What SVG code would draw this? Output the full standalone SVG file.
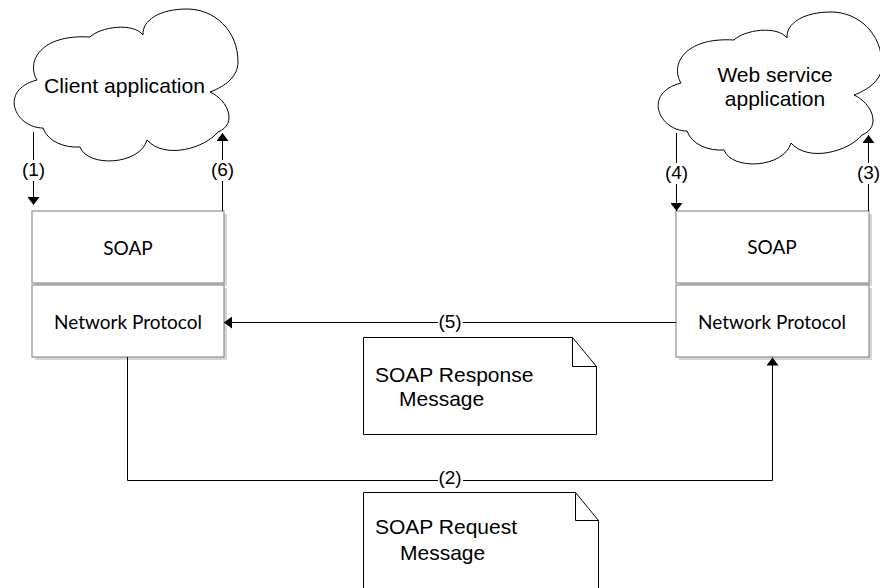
<svg xmlns="http://www.w3.org/2000/svg" width="880" height="588" viewBox="0 0 880 588">
<style>
.cloud{fill:#fff;stroke:#000;stroke-width:1}
.box{fill:#fff;stroke:#7a7a7a;stroke-width:1}
.shadow{fill:#d6d6d6}
.bt{font-family:Lato,"Open Sans",sans-serif;font-size:19px;fill:#000;text-anchor:middle}
.t{font-family:"Liberation Sans",Arial,sans-serif;font-size:21px;fill:#000}
.lbl{font-family:"Liberation Sans",Arial,sans-serif;font-size:19px;fill:#000;text-anchor:middle}
.ln{fill:none;stroke:#000;stroke-width:1}
.note{fill:#fff;stroke:#000;stroke-width:1}
.bg{fill:#fff}
</style>
<defs>
<path id="cloudshape" d="M37,80 C26,62 40,34 90,37 C100,27 133,22 143,35 C142,20 160,9 187,9 C214,9 238,30 238,62 C238,76 226,86 210,92 C228,100 238,124 218,132 C205,148 165,160 147,140 C140,165 88,168 80,147 C65,148 48,142 43,128 C15,128 -2,90 37,80 Z"/>
<marker id="ah" viewBox="0 0 8 12" refX="8" refY="6" markerWidth="8" markerHeight="12" markerUnits="userSpaceOnUse" orient="auto">
<path d="M0,0 L8,6 L0,12 Z" fill="#000"/>
</marker>
</defs>

<g id="client-app">
<use href="#cloudshape" class="cloud"/>
<text class="t" x="124.5" y="92.5" text-anchor="middle" textLength="161" lengthAdjust="spacingAndGlyphs">Client application</text>
</g>

<g id="webservice-app">
<use href="#cloudshape" class="cloud" transform="translate(644,3)"/>
<text class="t" x="775" y="82" text-anchor="middle">Web service</text>
<text class="t" x="775" y="106" text-anchor="middle">application</text>
</g>

<g id="client-soap">
<rect class="shadow" x="35" y="214" width="192" height="72"/>
<rect class="box" x="32" y="211" width="192" height="72"/>
<text class="bt" x="128" y="255">SOAP</text>
</g>
<g id="client-net">
<rect class="shadow" x="35" y="288" width="192" height="72"/>
<rect class="box" x="32" y="285" width="192" height="72"/>
<text class="bt" x="128" y="328.5">Network Protocol</text>
</g>

<g id="server-soap">
<rect class="shadow" x="679" y="214" width="193" height="72"/>
<rect class="box" x="676" y="211" width="193" height="72"/>
<text class="bt" x="772" y="254">SOAP</text>
</g>
<g id="server-net">
<rect class="shadow" x="679" y="288" width="193" height="72"/>
<rect class="box" x="676" y="285" width="193" height="72"/>
<text class="bt" x="772" y="328.5">Network Protocol</text>
</g>

<g id="response-msg">
<path class="note" d="M363.5,337.5 H572.5 L596.5,366.5 V434.5 H363.5 Z"/>
<path class="ln" d="M572.5,337.5 V366.5 H596.5"/>
<text class="t" x="375" y="382">SOAP Response</text>
<text class="t" x="399" y="406">Message</text>
</g>

<g id="request-msg">
<path class="note" d="M363.5,492.5 H575.5 L598.5,520.5 V600 H363.5 Z"/>
<path class="ln" d="M575.5,492.5 V520.5 H598.5"/>
<text class="t" x="375" y="534">SOAP Request</text>
<text class="t" x="400" y="560">Message</text>
</g>

<g id="connectors">
<path class="ln" d="M33.5,132 V205" marker-end="url(#ah)"/>
<path class="ln" d="M222.5,211 V133" marker-end="url(#ah)"/>
<path class="ln" d="M676.5,133 V211" marker-end="url(#ah)"/>
<path class="ln" d="M868.5,211 V135" marker-end="url(#ah)"/>
<path class="ln" d="M676,322.5 H224" marker-end="url(#ah)"/>
<path class="ln" d="M127.5,357 V480.5 H772.5 V357.5" marker-end="url(#ah)"/>
<rect class="bg" x="22" y="160" width="23" height="21"/>
<text class="lbl" x="33.5" y="176">(1)</text>
<rect class="bg" x="211" y="160" width="23" height="21"/>
<text class="lbl" x="222.5" y="176">(6)</text>
<rect class="bg" x="665" y="163" width="23" height="21"/>
<text class="lbl" x="676.5" y="179">(4)</text>
<rect class="bg" x="857" y="163" width="23" height="21"/>
<text class="lbl" x="868.5" y="179">(3)</text>
<rect class="bg" x="438" y="312" width="25" height="20"/>
<text class="lbl" x="450" y="327.5">(5)</text>
<rect class="bg" x="438" y="470" width="25" height="20"/>
<text class="lbl" x="450" y="484">(2)</text>
</g>
</svg>
